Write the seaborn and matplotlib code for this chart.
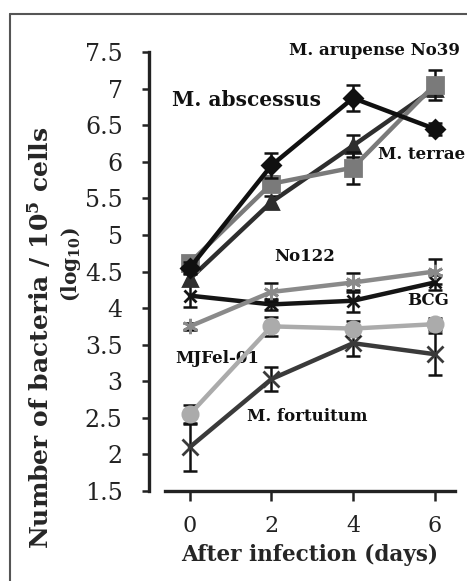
import pandas as pd
import seaborn as sns
import matplotlib.pyplot as plt
from matplotlib.lines import Line2D

# Values (log10 bacteria per 10^5 cells)
days = [0, 2, 4, 6]
abscessus = [4.55, 5.95, 6.87, 6.45]
abscessus_err = [0.08, 0.17, 0.18, 0.08]
arupense = [4.62, 5.7, 5.92, 7.05]
arupense_err = [0.08, 0.1, 0.22, 0.2]
terrae = [4.4, 5.45, 6.22, 7.0]
terrae_err = [0.08, 0.08, 0.15, 0.1]
no122 = [3.75, 4.22, 4.35, 4.5]
no122_err = [0.05, 0.12, 0.13, 0.17]
bcg = [4.17, 4.05, 4.1, 4.35]
bcg_err = [0.15, 0.07, 0.15, 0.1]
mjfel = [2.55, 3.75, 3.72, 3.78]
mjfel_err = [0.13, 0.13, 0.1, 0.08]
fortuitum = [2.1, 3.03, 3.52, 3.37]
fortuitum_err = [0.33, 0.17, 0.18, 0.29]
yticks = [1.5, 2, 2.5, 3, 3.5, 4, 4.5, 5, 5.5, 6, 6.5, 7, 7.5]
ytick_labels = ["1.5", "2", "2.5", "3", "3.5", "4", "4.5", "5", "5.5",
                "6", "6.5", "7", "7.5"]

series = {
    "BCG": (bcg, bcg_err),
    "No122": (no122, no122_err),
    "M. fortuitum": (fortuitum, fortuitum_err),
    "MJFel-01": (mjfel, mjfel_err),
    "M. terrae": (terrae, terrae_err),
    "M. arupense No39": (arupense, arupense_err),
    "M. abscessus": (abscessus, abscessus_err),
}
colors = {"BCG": "#151515", "No122": "#8a8a8a", "M. fortuitum": "#3a3a3a",
          "MJFel-01": "#ababab", "M. terrae": "#2e2e2e",
          "M. arupense No39": "#7a7a7a", "M. abscessus": "#101010"}
markers = {"BCG": "x", "No122": (6, 2, 0), "M. fortuitum": "x",
           "MJFel-01": "o", "M. terrae": "^", "M. arupense No39": "s",
           "M. abscessus": "D"}
msizes = {"BCG": 9, "No122": 11, "M. fortuitum": 12, "MJFel-01": 11,
          "M. terrae": 10, "M. arupense No39": 12, "M. abscessus": 9}

rows = []
for name, (vals, errs) in series.items():
    for d, v, e in zip(days, vals, errs):
        rows.append({"day": d, "value": v, "err": e, "strain": name})
df = pd.DataFrame(rows)

sns.set_style("ticks")
plt.rcParams['font.family'] = ['DejaVu Serif']
plt.rcParams['mathtext.fontset'] = 'dejavuserif'

fig = plt.figure(figsize=(4.67, 5.81), dpi=100)
ax = fig.add_axes([165 / 467, 1 - 491 / 581, 290 / 467, 439 / 581])

for i, name in enumerate(series):
    sub = df[df["strain"] == name]
    ax.errorbar(sub["day"], sub["value"], yerr=sub["err"], fmt="none",
                ecolor="#111111", elinewidth=1.8, capsize=5, capthick=1.8,
                zorder=2 + 2 * i)
    sns.lineplot(data=sub, x="day", y="value", ax=ax, color=colors[name],
                 marker=markers[name], markersize=msizes[name],
                 markeredgecolor=colors[name], markeredgewidth=2,
                 linewidth=3.2, zorder=3 + 2 * i, legend=False)

ax.set_xlim(-0.61, 6.5)
ax.set_ylim(1.5, 7.5)
ax.set_xticks(days)
ax.set_yticks(yticks)
ax.set_yticklabels(ytick_labels, family="DejaVu Sans")
ax.tick_params(axis="y", direction="out", length=5, width=1.8,
               labelsize=17, pad=14, colors="#222222")
ax.tick_params(axis="x", direction="out", length=7, width=1.8,
               labelsize=16, pad=10, colors="#222222")
for s in ["top", "right"]:
    ax.spines[s].set_visible(False)
ax.spines["left"].set_position(("outward", 11.5))
ax.spines["left"].set_linewidth(2.4)
ax.spines["bottom"].set_linewidth(2.4)
ax.spines["left"].set_color("#222222")
ax.spines["bottom"].set_color("#222222")

ax.set_xlabel("After infection (days)", fontsize=15.5, fontweight="bold",
              labelpad=5)
ax.set_ylabel("")
fig.text(40 / 467, 1 - 338 / 581,
         r"Number of bacteria / 10$^{\mathbf{5}}$ cells",
         rotation=90, ha="center", va="center", fontsize=18,
         fontweight="bold")
fig.text(71 / 467, 1 - 265 / 581, r"(log$_{\mathbf{10}}$)",
         rotation=90, ha="center", va="center", fontsize=14.5,
         fontweight="bold")

lab = dict(fontsize=12, fontweight="bold", va="center", color="#111111")
ax.text(4.53, 7.52, "M. arupense No39", ha="center", **lab)
ax.text(-0.44, 6.85, "M. abscessus", ha="left", fontsize=14.5,
        fontweight="bold", va="center", color="#111111")
ax.text(4.6, 6.1, "M. terrae", ha="left", **lab)
ax.text(2.82, 4.7, "No122", ha="center", **lab)
ax.text(5.83, 4.1, "BCG", ha="center", **lab)
ax.text(0.67, 3.31, "MJFel-01", ha="center", **lab)
ax.text(2.87, 2.52, "M. fortuitum", ha="center", **lab)

# outer frame of the original figure panel
fig.add_artist(Line2D([10 / 467, 10 / 467], [0, 1 - 14 / 581],
                      transform=fig.transFigure, color="#555555", lw=1.5))
fig.add_artist(Line2D([10 / 467, 1], [1 - 14 / 581, 1 - 14 / 581],
                      transform=fig.transFigure, color="#555555", lw=1.5))

fig.savefig("out.png", dpi=100)
